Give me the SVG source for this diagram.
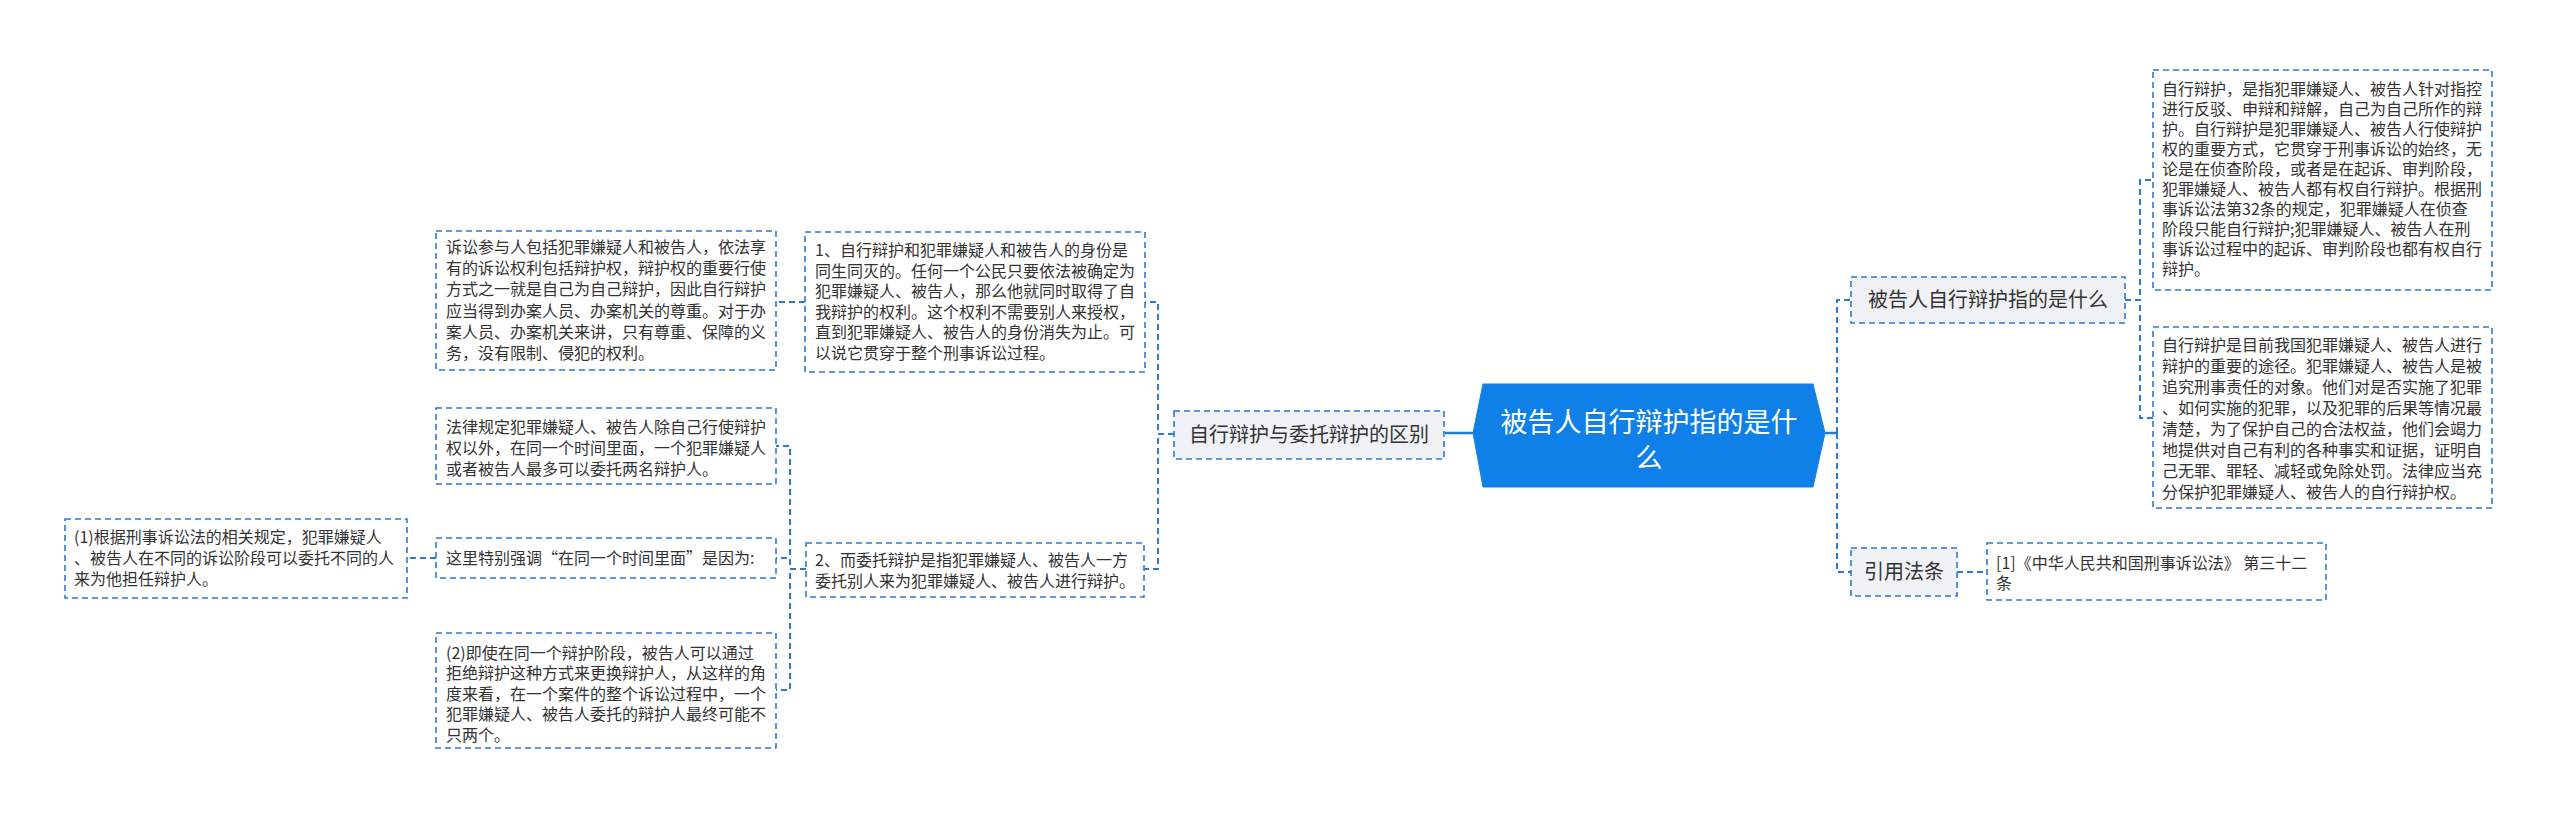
<svg xmlns="http://www.w3.org/2000/svg" width="2560" height="821" viewBox="0 0 2560 821">
<style>
.box{fill:#ffffff;stroke:#2b7bd0;stroke-width:1.6;stroke-dasharray:6 4}
.lbl{fill:#eff1f4;stroke:#2b7bd0;stroke-width:1.6;stroke-dasharray:6 4}
.t{font-family:"Noto Sans CJK SC","Microsoft YaHei",sans-serif;font-size:16px;fill:#333333}
.lt{font-family:"Noto Sans CJK SC","Microsoft YaHei",sans-serif;font-size:20px;fill:#333333}
.rt{font-family:"Noto Sans CJK SC","Microsoft YaHei",sans-serif;font-size:27px;fill:#ffffff}
.c{fill:none;stroke:#2b7bd0;stroke-width:2;stroke-dasharray:6 4}
.s{fill:none;stroke:#1a7fe0;stroke-width:2.5}
</style>
<rect width="2560" height="821" fill="#ffffff"/>
<g id="connectors">
<path class="s" d="M1473 433 H1445"/>
<path class="c" d="M1174 434 H1158 V302 H1145"/>
<path class="c" d="M1174 434 H1158 V569 H1144"/>
<path class="c" d="M805 302 H776"/>
<path class="c" d="M806 569 H790 V446 H776"/>
<path class="c" d="M806 569 H790 V558 H776"/>
<path class="c" d="M806 569 H790 V690 H776"/>
<path class="c" d="M436 558 H407"/>
<path class="s" d="M1825 433 H1837"/>
<path class="c" d="M1837 433 V300 H1851"/>
<path class="c" d="M1837 433 V572 H1851"/>
<path class="c" d="M2125 300 H2140 V180 H2153"/>
<path class="c" d="M2125 300 H2140 V418 H2153"/>
<path class="c" d="M1957 572 H1987"/>
</g>
<g id="root">
<polygon points="1483,384 1813,384 1825,433 1813,487 1483,487 1473,433" fill="#0f80e8" stroke="#1a7fe0" stroke-width="1"/>
<text class="rt" x="1649" text-anchor="middle"><tspan x="1649" y="432">被告人自行辩护指的是什</tspan><tspan x="1649" y="468">么</tspan></text>
</g>
<g id="n-diff">
<rect class="lbl" x="1174" y="411" width="270" height="48"/>
<text class="lt" x="1309" y="442" text-anchor="middle">自行辩护与委托辩护的区别</text>
</g>
<g id="n-m1">
<rect class="box" x="805" y="232" width="340" height="140"/>
<text class="t"><tspan x="815" y="256">1、自行辩护和犯罪嫌疑人和被告人的身份是</tspan><tspan x="815" y="276.6">同生同灭的。任何一个公民只要依法被确定为</tspan><tspan x="815" y="297.2">犯罪嫌疑人、被告人，那么他就同时取得了自</tspan><tspan x="815" y="317.8">我辩护的权利。这个权利不需要别人来授权，</tspan><tspan x="815" y="338.4">直到犯罪嫌疑人、被告人的身份消失为止。可</tspan><tspan x="815" y="359">以说它贯穿于整个刑事诉讼过程。</tspan></text>
</g>
<g id="n-l1">
<rect class="box" x="436" y="231" width="340" height="139"/>
<text class="t"><tspan x="446" y="253">诉讼参与人包括犯罪嫌疑人和被告人，依法享</tspan><tspan x="446" y="274.2">有的诉讼权利包括辩护权，辩护权的重要行使</tspan><tspan x="446" y="295.4">方式之一就是自己为自己辩护，因此自行辩护</tspan><tspan x="446" y="316.6">应当得到办案人员、办案机关的尊重。对于办</tspan><tspan x="446" y="337.8">案人员、办案机关来讲，只有尊重、保障的义</tspan><tspan x="446" y="359">务，没有限制、侵犯的权利。</tspan></text>
</g>
<g id="n-m2">
<rect class="box" x="806" y="543" width="338" height="54"/>
<text class="t"><tspan x="815" y="565.5">2、而委托辩护是指犯罪嫌疑人、被告人一方</tspan><tspan x="815" y="587">委托别人来为犯罪嫌疑人、被告人进行辩护。</tspan></text>
</g>
<g id="n-l2">
<rect class="box" x="436" y="408" width="340" height="76"/>
<text class="t"><tspan x="446" y="432.5">法律规定犯罪嫌疑人、被告人除自己行使辩护</tspan><tspan x="446" y="453.5">权以外，在同一个时间里面，一个犯罪嫌疑人</tspan><tspan x="446" y="474.5">或者被告人最多可以委托两名辩护人。</tspan></text>
</g>
<g id="n-l3">
<rect class="box" x="436" y="538" width="340" height="40"/>
<text class="t" x="446" y="563.5">这里特别强调“在同一个时间里面”是因为:</text>
</g>
<g id="n-ll">
<rect class="box" x="65" y="519" width="342" height="79"/>
<text class="t"><tspan x="74" y="542.5">(1)根据刑事诉讼法的相关规定，犯罪嫌疑人</tspan><tspan x="74" y="563.5">、被告人在不同的诉讼阶段可以委托不同的人</tspan><tspan x="74" y="584.5">来为他担任辩护人。</tspan></text>
</g>
<g id="n-l4">
<rect class="box" x="436" y="633" width="340" height="115"/>
<text class="t"><tspan x="446" y="658.5">(2)即使在同一个辩护阶段，被告人可以通过</tspan><tspan x="446" y="679">拒绝辩护这种方式来更换辩护人，从这样的角</tspan><tspan x="446" y="699.5">度来看，在一个案件的整个诉讼过程中，一个</tspan><tspan x="446" y="720">犯罪嫌疑人、被告人委托的辩护人最终可能不</tspan><tspan x="446" y="740.5">只两个。</tspan></text>
</g>
<g id="n-what">
<rect class="lbl" x="1851" y="277" width="274" height="46"/>
<text class="lt" x="1988" y="307" text-anchor="middle">被告人自行辩护指的是什么</text>
</g>
<g id="n-r1">
<rect class="box" x="2153" y="70" width="339" height="220"/>
<text class="t"><tspan x="2162" y="94.5">自行辩护，是指犯罪嫌疑人、被告人针对指控</tspan><tspan x="2162" y="114.6">进行反驳、申辩和辩解，自己为自己所作的辩</tspan><tspan x="2162" y="134.7">护。自行辩护是犯罪嫌疑人、被告人行使辩护</tspan><tspan x="2162" y="154.8">权的重要方式，它贯穿于刑事诉讼的始终，无</tspan><tspan x="2162" y="174.9">论是在侦查阶段，或者是在起诉、审判阶段，</tspan><tspan x="2162" y="195">犯罪嫌疑人、被告人都有权自行辩护。根据刑</tspan><tspan x="2162" y="215.1">事诉讼法第32条的规定，犯罪嫌疑人在侦查</tspan><tspan x="2162" y="235.2">阶段只能自行辩护;犯罪嫌疑人、被告人在刑</tspan><tspan x="2162" y="255.3">事诉讼过程中的起诉、审判阶段也都有权自行</tspan><tspan x="2162" y="275.4">辩护。</tspan></text>
</g>
<g id="n-r2">
<rect class="box" x="2153" y="327" width="339" height="181"/>
<text class="t"><tspan x="2162" y="350.5">自行辩护是目前我国犯罪嫌疑人、被告人进行</tspan><tspan x="2162" y="371.5">辩护的重要的途径。犯罪嫌疑人、被告人是被</tspan><tspan x="2162" y="392.5">追究刑事责任的对象。他们对是否实施了犯罪</tspan><tspan x="2162" y="413.5">、如何实施的犯罪，以及犯罪的后果等情况最</tspan><tspan x="2162" y="434.5">清楚，为了保护自己的合法权益，他们会竭力</tspan><tspan x="2162" y="455.5">地提供对自己有利的各种事实和证据，证明自</tspan><tspan x="2162" y="476.5">己无罪、罪轻、减轻或免除处罚。法律应当充</tspan><tspan x="2162" y="497.5">分保护犯罪嫌疑人、被告人的自行辩护权。</tspan></text>
</g>
<g id="n-law">
<rect class="lbl" x="1851" y="548" width="106" height="48"/>
<text class="lt" x="1904" y="579" text-anchor="middle">引用法条</text>
</g>
<g id="n-ref">
<rect class="box" x="1987" y="543" width="339" height="57"/>
<text class="t"><tspan x="1996" y="568.5">[1]《中华人民共和国刑事诉讼法》 第三十二</tspan><tspan x="1996" y="589">条</tspan></text>
</g>
</svg>
